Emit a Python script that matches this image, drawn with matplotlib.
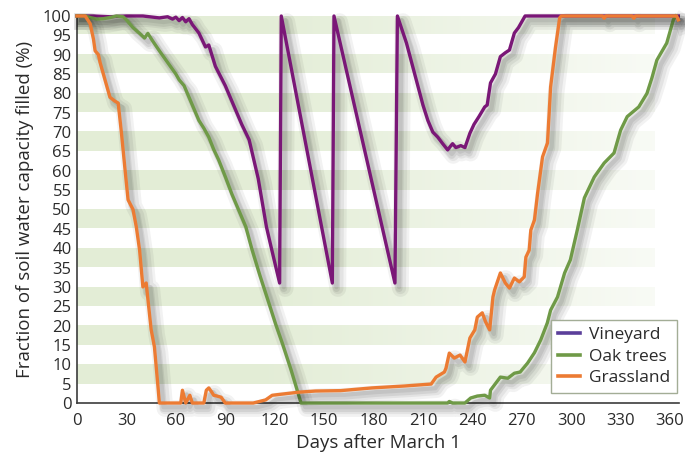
import numpy as np
import matplotlib
matplotlib.use("Agg")
from matplotlib import pyplot, rcParams
from matplotlib import patheffects
from matplotlib.colors import to_rgb
from matplotlib.lines import Line2D

rcParams["font.family"] = ["Open Sans", "DejaVu Sans"]

# values (day after March 1, % filled)
vineyard_days = [0, 10, 20, 30, 40, 50, 55, 58, 60, 62, 64, 66, 68, 70, 74,
                 78, 80, 84, 90, 94, 100, 104.5, 110, 115, 118, 123,
                 124, 155, 156, 193, 194.5, 200, 205, 210, 213, 216, 219,
                 222, 225, 227, 228, 230, 233, 235.5, 238.5, 241, 244,
                 247.5, 249, 251, 254, 257, 260, 262.5, 265.5, 268, 272,
                 300, 330, 365]
vineyard_vals = [100, 100, 99.8, 100, 100, 99.5, 99.8, 99.2, 99.7, 98.8,
                 99.6, 98.5, 99.3, 97.8, 95.6, 92, 92.5, 87, 82, 78, 72, 68,
                 58, 45.5, 40, 31, 100, 31, 100, 31, 100, 93, 85, 77, 73,
                 70, 68.7, 67, 65.4, 66.5, 67, 66, 66.5, 66, 69.7, 72, 74,
                 76.5, 77, 82.7, 85, 89.5, 90.5, 91.2, 95.6, 97, 100,
                 100, 100, 100]

oak_days = [0, 5, 8, 12, 16, 20, 24, 28, 30, 34, 38, 41, 43, 46, 50, 55,
            60, 62, 65, 68, 71, 74, 77, 80, 83, 86, 90, 94, 98, 102.5, 106,
            111, 116.5, 120.5, 124.6, 130, 136, 225, 226, 228, 235.5, 239,
            243, 247.5, 250.5, 251, 254, 257, 261.5, 265.5, 269, 273.5,
            277.7, 281.5, 285.5, 287.5, 291.7, 296, 299.5, 303.7, 308, 314,
            320, 326, 330, 334, 341, 346, 349, 352, 358, 362, 363.5]
oak_vals = [100, 100, 99.6, 99.2, 99.3, 99.6, 100, 99.8, 99, 97, 95.5, 94.3,
            95.5, 93.5, 91, 88, 85, 83.5, 82, 79, 76, 73, 71, 68.7, 65.5,
            62.8, 58.5, 54, 50, 45.5, 40, 33, 25.8, 20.5, 15.5, 8.5, 0, 0,
            0.4, 0, 0, 1.3, 1.8, 2, 1.3, 3.3, 5, 6.7, 6.4, 7.7, 8, 10.3, 13,
            16.3, 20.7, 24, 27.4, 33.6, 37, 44.7, 53, 58.4, 62, 64.6, 70.5,
            74, 76.5, 80, 84, 88.6, 93, 99, 100]

grass_days = [0, 5, 8, 10, 11, 13, 14, 16, 17, 20, 23, 25, 27, 29, 31, 34,
              36, 38, 40, 42, 43, 45, 47, 49, 50, 63, 64, 66, 68.5, 70, 77,
              78.5, 80, 81.5, 83, 85, 87.5, 90, 107, 114.5, 118.5, 124.5,
              134.6, 144.8, 160, 179, 199, 215, 218, 223, 224, 226, 229,
              232.5, 235.5, 238.5, 241.5, 243, 246, 248, 250.5, 252.5,
              253.5, 257, 260, 262.5, 265.5, 268.5, 271.5, 272.5, 274.5,
              275.5, 277.7, 279.6, 282.6, 285.6, 287.5, 290.5, 293, 294,
              319, 320, 321, 337, 338, 339, 364, 365]
grass_vals = [100, 100, 98, 94, 91, 90, 88, 85, 83.5, 79, 78, 77.5, 69.7,
              61, 52.5, 50, 45.5, 39.5, 30, 31, 27, 19, 14.5, 5, 0, 0, 3.3,
              0, 2, 0, 0, 3.3, 3.9, 3, 2, 1.8, 1.5, 0, 0, 0.8, 2, 2.3, 2.8,
              3.1, 3.2, 3.9, 4.4, 4.9, 6.7, 8, 9, 12.9, 11.6, 12.4, 10.6,
              16.8, 18.9, 22.2, 23.3, 21, 18.9, 27.4, 29.2, 33.6, 31, 29.7,
              32.3, 31.3, 32.6, 37.7, 39.5, 44.7, 47.3, 54.2, 63.6, 67.2,
              81.7, 92, 99.5, 100, 100, 99.4, 100, 100, 99.4, 100, 100, 99]

series_labels = ["Vineyard", "Oak trees", "Grassland"]
line_colors = ["#7a1777", "#6f9a47", "#ec7b33"]
legend_colors = ["#5b3f9a", "#6f9a47", "#ec7b33"]

x_ticks = list(range(0, 361, 30))
y_ticks = list(range(0, 101, 5))

figure = pyplot.figure(figsize=(6.85, 4.54), dpi=100)
axes = figure.add_axes([0.1124, 0.1123, 0.879, 0.8525])

# faded green bands behind the lines (every other 5% step)
band_rgb = np.array(to_rgb("#e3edd6"))
n_cols = 730
x_frac = np.linspace(0, 1, n_cols)
fade = np.clip(1.0 - np.clip(x_frac - 0.3, 0, None) * 1.15, 0.15, 1)
fade[x_frac > 0.96] = 0
band_image = np.zeros((20, n_cols, 4))
band_image[..., :3] = band_rgb
for row in range(1, 20, 2):
    band_image[row, :, 3] = fade
axes.imshow(band_image, extent=[0, 365.5, 0, 100], origin="lower",
            aspect="auto", interpolation="nearest", zorder=0)

# soft drop shadow made of stacked offset strokes
shadow = [
    patheffects.SimpleLineShadow(offset=(4, -4), shadow_color="k",
                                 alpha=0.05, linewidth=12),
    patheffects.SimpleLineShadow(offset=(4, -4), shadow_color="k",
                                 alpha=0.06, linewidth=8),
    patheffects.SimpleLineShadow(offset=(3, -4), shadow_color="k",
                                 alpha=0.07, linewidth=5),
    patheffects.SimpleLineShadow(offset=(3, -3), shadow_color="k",
                                 alpha=0.07, linewidth=3),
    patheffects.Normal(),
]

series = [(vineyard_days, vineyard_vals),
          (oak_days, oak_vals),
          (grass_days, grass_vals)]
for (days, vals), color in zip(series, line_colors):
    axes.plot(days, vals, color=color, linewidth=2.4,
              solid_joinstyle="round", path_effects=shadow, zorder=3,
              clip_on=False)

handles = [Line2D([], [], color=c, linewidth=2.6) for c in legend_colors]
legend = axes.legend(handles, series_labels, loc="lower right",
                     bbox_to_anchor=(0.997, 0.025), fontsize=12.5,
                     frameon=True, fancybox=False, handlelength=1.25,
                     handletextpad=0.55, labelspacing=0.32,
                     borderpad=0.4, borderaxespad=0.0, framealpha=1)
legend.get_frame().set_edgecolor("#a3ad96")
legend.get_frame().set_linewidth(1.0)
for text in legend.get_texts():
    text.set_color("#2a2a2a")
legend.set_zorder(5)

axes.set_xlim(0, 365.5)
axes.set_ylim(0, 100)
axes.set_xticks(x_ticks)
axes.set_yticks(y_ticks)
axes.tick_params(length=0, labelsize=12, colors="#2a2a2a", pad=7)
axes.tick_params(axis="y", pad=4)
for side in ["top", "right"]:
    axes.spines[side].set_visible(False)
for side in ["left", "bottom"]:
    axes.spines[side].set_color("#3c3c3c")
    axes.spines[side].set_linewidth(1.2)

axes.set_xlabel("Days after March 1", fontsize=13.5, color="#2a2a2a",
                labelpad=4)
axes.set_ylabel("Fraction of soil water capacity filled (%)", fontsize=13.5,
                color="#2a2a2a", labelpad=6)

figure.savefig("out.png", dpi=100)
